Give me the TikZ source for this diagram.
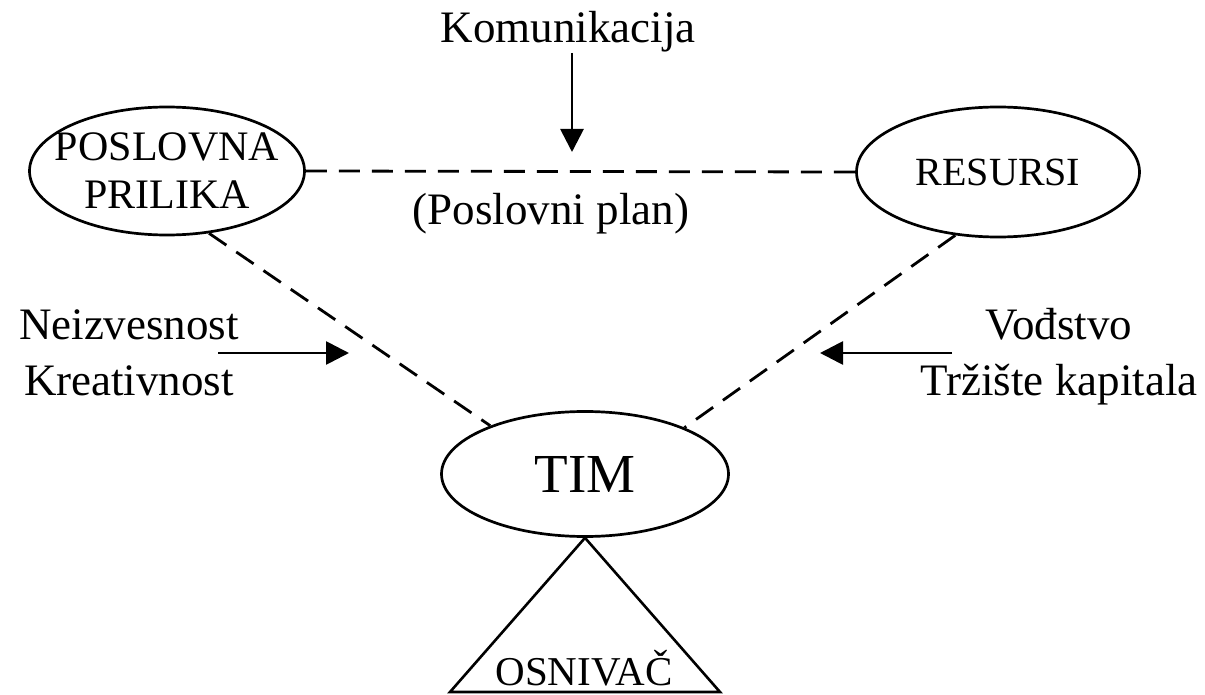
\documentclass[tikz,border=0pt]{standalone}
\usepackage{fontspec}
\setmainfont{Liberation Serif}
\usetikzlibrary{arrows.meta,positioning,shapes.geometric}

\begin{document}
\begin{tikzpicture}[
    x=1pt, y=-1pt,
    oval/.style={ellipse, draw=black, line width=2.7pt, inner sep=0pt},
    tekst/.style={font=\fontsize{45}{56}\selectfont, align=center, inner sep=0pt},
    veza/.style={line width=2.8pt, dash pattern=on 21pt off 12pt},
    uticaj/.style={-{Triangle[length=23pt, width=23pt]}, line width=2.8pt},
]
    \useasboundingbox (0,0) rectangle (1205,695);

    % tri ugla modela
    \node[oval, minimum width=275pt, minimum height=128pt,
          label={[tekst, font=\fontsize{42}{48}\selectfont]center:POSLOVNA\\PRILIKA}] (prilika) at (167,171) {};
    \node[oval, minimum width=283pt, minimum height=130pt,
          label={[tekst, font=\fontsize{40}{48}\selectfont]center:RESURSI}] (resursi) at (998,172) {};
    \node[oval, minimum width=287pt, minimum height=125pt,
          label={[tekst, font=\fontsize{55}{66}\selectfont]center:TIM}] (tim) at (585,474) {};

    % isprekidane veze
    \draw[veza] (prilika.east) -- (resursi.west);
    \draw[veza] (prilika.-56.5) -- (tim.153.4);
    \draw[veza] (resursi.236) -- (tim.25);

    % osnivac
    \coordinate (osnova levo) at (450,692);
    \coordinate (osnova desno) at (720,692);
    \draw[line width=2.6pt] (tim.south) -- (osnova levo) -- (osnova desno) -- cycle;
    \node[tekst, font=\fontsize{41}{49}\selectfont, anchor=base] (osnivac) at (584,685) {OSNIVAČ};

    % spoljni uticaji
    \node[tekst, anchor=base] (komunikacija) at (568,43) {Komunikacija};
    \node[tekst, anchor=base] (plan) at (551,225) {(Poslovni plan)};
    \node[tekst] (neizvesnost) at (129,353) {Neizvesnost\\Kreativnost};
    \node[tekst] (vodjstvo) at (1059,357) {Vođstvo\\Tržište kapitala};

    \coordinate (plan vrh) at (572,152);
    \coordinate (levi pocetak) at (218,353);
    \coordinate (levi kraj) at (349,353);
    \coordinate (desni pocetak) at (952,353);
    \coordinate (desni kraj) at (820,353);

    \draw[uticaj] (komunikacija.south -| plan vrh) -- (plan vrh);
    \draw[uticaj] (levi pocetak) -- (levi kraj);
    \draw[uticaj] (desni pocetak) -- (desni kraj);
\end{tikzpicture}
\end{document}
